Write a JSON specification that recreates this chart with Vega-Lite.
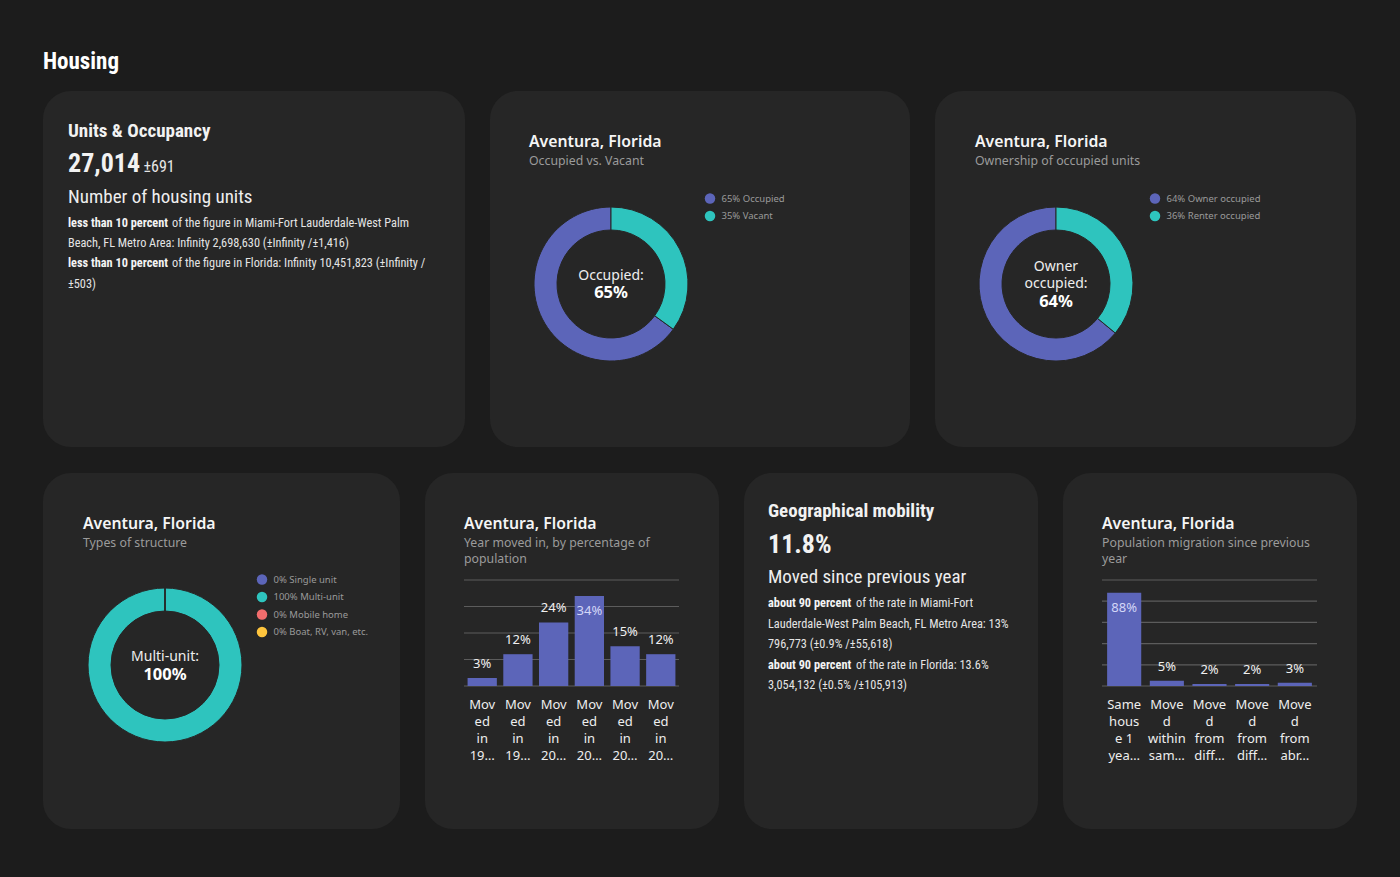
{
  "$schema": "https://vega.github.io/schema/vega-lite/v6.json",
  "background": "#1c1c1c",
  "padding": {"left": 43, "top": 51, "right": 43, "bottom": 48},
  "title": {"text": "Housing", "anchor": "start", "font": "Roboto Condensed, Liberation Sans Narrow, Roboto, sans-serif", "fontSize": 23, "fontWeight": "bold", "color": "#ffffff", "offset": 17},
  "datasets": {
    "units_head": [{"h": "Units & Occupancy", "big": "27,014", "moe": "±691", "label": "Number of housing units"}],
    "units_para": [
      {"ln": 1, "b": "less than 10 percent", "r": "of the figure in Miami-Fort Lauderdale-West Palm"},
      {"ln": 2, "b": "", "r": "Beach, FL Metro Area: Infinity 2,698,630 (±Infinity /±1,416)"},
      {"ln": 3, "b": "less than 10 percent", "r": "of the figure in Florida: Infinity 10,451,823 (±Infinity /"},
      {"ln": 4, "b": "", "r": "±503)"}
    ],
    "occ_meta": [{"ln": 1, "txt": "Aventura, Florida"}, {"ln": 2, "txt": "Occupied vs. Vacant"}],
    "occ_center": [{"c1": "Occupied:", "c2": "65%"}],
    "occ": [{"status": "65% Occupied", "share": 0.65}, {"status": "35% Vacant", "share": 0.35}],
    "own_meta": [{"ln": 1, "txt": "Aventura, Florida"}, {"ln": 2, "txt": "Ownership of occupied units"}],
    "own_center": [{"c1": "Owner|occupied:", "c2": "64%"}],
    "own": [{"tenure": "64% Owner occupied", "share": 0.64}, {"tenure": "36% Renter occupied", "share": 0.36}],
    "struct_meta": [{"ln": 1, "txt": "Aventura, Florida"}, {"ln": 2, "txt": "Types of structure"}],
    "struct_center": [{"c1": "Multi-unit:", "c2": "100%"}],
    "struct": [
      {"kind": "0% Single unit", "share": 0},
      {"kind": "100% Multi-unit", "share": 1},
      {"kind": "0% Mobile home", "share": 0},
      {"kind": "0% Boat, RV, van, etc.", "share": 0}
    ],
    "moved_meta": [{"t": "Aventura, Florida", "s": "Year moved in, by percentage of|population"}],
    "moved": [
      {"period": "Moved in 1989 or earlier", "lab": "Mov|ed|in|19…", "share": 0.03},
      {"period": "Moved in 1990 to 1999", "lab": "Mov|ed|in|19…", "share": 0.12},
      {"period": "Moved in 2000 to 2009", "lab": "Mov|ed|in|20…", "share": 0.24},
      {"period": "Moved in 2010 to 2014", "lab": "Mov|ed|in|20…", "share": 0.34},
      {"period": "Moved in 2015 to 2016", "lab": "Mov|ed|in|20…", "share": 0.15},
      {"period": "Moved in 2017 or later", "lab": "Mov|ed|in|20…", "share": 0.12}
    ],
    "grid40": [{"g": 0}, {"g": 0.1}, {"g": 0.2}, {"g": 0.3}, {"g": 0.4}],
    "geo_head": [{"h": "Geographical mobility", "big": "11.8%", "label": "Moved since previous year"}],
    "geo_para": [
      {"ln": 1, "b": "about 90 percent", "r": "of the rate in Miami-Fort"},
      {"ln": 2, "b": "", "r": "Lauderdale-West Palm Beach, FL Metro Area: 13%"},
      {"ln": 3, "b": "", "r": "796,773 (±0.9% /±55,618)"},
      {"ln": 4, "b": "about 90 percent", "r": "of the rate in Florida: 13.6%"},
      {"ln": 5, "b": "", "r": "3,054,132 (±0.5% /±105,913)"}
    ],
    "migr_meta": [{"t": "Aventura, Florida", "s": "Population migration since previous|year"}],
    "migr": [
      {"cat": "Same house 1 year ago", "lab": "Same|hous|e 1|yea…", "share": 0.88},
      {"cat": "Moved within same county", "lab": "Move|d|within|sam…", "share": 0.05},
      {"cat": "Moved from different county, same state", "lab": "Move|d|from|diff…", "share": 0.02},
      {"cat": "Moved from different state", "lab": "Move|d|from|diff…", "share": 0.02},
      {"cat": "Moved from abroad", "lab": "Move|d|from|abr…", "share": 0.03}
    ],
    "grid100": [{"g": 0}, {"g": 0.2}, {"g": 0.4}, {"g": 0.6}, {"g": 0.8}, {"g": 1}]
  },
  "spacing": 26,
  "resolve": {"scale": {"color": "independent"}, "legend": {"color": "independent"}},
  "vconcat": [
    {
      "spacing": 25,
      "resolve": {"scale": {"color": "independent"}, "legend": {"color": "independent"}},
      "hconcat": [
        {
          "width": 422, "height": 356,
          "layer": [
            {"data": {"name": "units_head"}, "mark": {"type": "text", "style": "head", "fill": "#f2f2f2", "align": "left", "x": 25, "y": 45.7}, "encoding": {"text": {"field": "h"}}},
            {"data": {"name": "units_head"}, "mark": {"type": "text", "style": "big", "fill": "#f2f2f2", "align": "left", "x": 25, "y": 81.3}, "encoding": {"text": {"field": "big"}}},
            {"data": {"name": "units_head"}, "mark": {"type": "text", "style": "moe", "fill": "#e6e6e6", "align": "left", "x": 100.5, "y": 81.3}, "encoding": {"text": {"field": "moe"}}},
            {"data": {"name": "units_head"}, "mark": {"type": "text", "style": "lead", "fill": "#eeeeee", "align": "left", "x": 25, "y": 111.7}, "encoding": {"text": {"field": "label"}}},
            {"data": {"name": "units_para"}, "transform": [{"filter": "datum.b != ''"}], "mark": {"type": "text", "style": "parab", "fill": "#f4f4f4", "align": "left", "x": 25},
             "encoding": {"y": {"field": "ln", "type": "ordinal", "scale": {"type": "point", "domain": [1, 2, 3, 4], "range": [135.7, 196.6], "padding": 0}, "axis": null}, "text": {"field": "b"}}},
            {"data": {"name": "units_para"}, "transform": [{"filter": "datum.b != ''"}], "mark": {"type": "text", "style": "para", "fill": "#e4e4e4", "align": "left", "x": 25, "dx": 104},
             "encoding": {"y": {"field": "ln", "type": "ordinal", "scale": {"type": "point", "domain": [1, 2, 3, 4], "range": [135.7, 196.6], "padding": 0}, "axis": null}, "text": {"field": "r"}}},
            {"data": {"name": "units_para"}, "transform": [{"filter": "datum.b == ''"}], "mark": {"type": "text", "style": "para", "fill": "#e4e4e4", "align": "left", "x": 25},
             "encoding": {"y": {"field": "ln", "type": "ordinal", "scale": {"type": "point", "domain": [1, 2, 3, 4], "range": [135.7, 196.6], "padding": 0}, "axis": null}, "text": {"field": "r"}}}
          ]
        },
        {
          "width": 420, "height": 356,
          "layer": [
            {"data": {"name": "occ"}, "mark": {"type": "arc", "x": 121, "y": 193, "innerRadius": 54, "outerRadius": 77, "stroke": "#262626", "strokeWidth": 1},
             "encoding": {"theta": {"field": "share", "type": "quantitative", "stack": true}, "order": {"field": "share", "sort": "ascending"},
               "color": {"field": "status", "type": "nominal", "scale": {"domain": ["65% Occupied", "35% Vacant"], "range": ["#5c65b9", "#2ec4be"]}, "legend": {"title": null, "orient": "none", "legendX": 214.5, "legendY": 102}}}},
            {"data": {"name": "occ_meta"}, "transform": [{"filter": "datum.ln == 1"}], "mark": {"type": "text", "style": "cardtitle", "fill": "#f5f5f5", "align": "left", "x": 39},
             "encoding": {"y": {"field": "ln", "type": "ordinal", "scale": {"type": "point", "domain": [1, 2], "range": [55.7, 74], "padding": 0}, "axis": null}, "text": {"field": "txt"}}},
            {"data": {"name": "occ_meta"}, "transform": [{"filter": "datum.ln == 2"}], "mark": {"type": "text", "style": "cardsub", "fill": "#9b9b9b", "align": "left", "x": 39},
             "encoding": {"y": {"field": "ln", "type": "ordinal", "scale": {"type": "point", "domain": [1, 2], "range": [55.7, 74], "padding": 0}, "axis": null}, "text": {"field": "txt"}}},
            {"data": {"name": "occ_center"}, "mark": {"type": "text", "style": "ctr", "fill": "#eeeeee", "align": "center", "x": 121, "y": 188.5, "lineBreak": "|"}, "encoding": {"text": {"field": "c1"}}},
            {"data": {"name": "occ_center"}, "mark": {"type": "text", "style": "ctrb", "fill": "#ffffff", "align": "center", "x": 121, "y": 207}, "encoding": {"text": {"field": "c2"}}}
          ]
        },
        {
          "width": 421, "height": 356,
          "layer": [
            {"data": {"name": "own"}, "mark": {"type": "arc", "x": 121, "y": 193, "innerRadius": 54, "outerRadius": 77, "stroke": "#262626", "strokeWidth": 1},
             "encoding": {"theta": {"field": "share", "type": "quantitative", "stack": true}, "order": {"field": "share", "sort": "ascending"},
               "color": {"field": "tenure", "type": "nominal", "scale": {"domain": ["64% Owner occupied", "36% Renter occupied"], "range": ["#5c65b9", "#2ec4be"]}, "legend": {"title": null, "orient": "none", "legendX": 214.5, "legendY": 102}}}},
            {"data": {"name": "own_meta"}, "transform": [{"filter": "datum.ln == 1"}], "mark": {"type": "text", "style": "cardtitle", "fill": "#f5f5f5", "align": "left", "x": 40},
             "encoding": {"y": {"field": "ln", "type": "ordinal", "scale": {"type": "point", "domain": [1, 2], "range": [55.7, 74], "padding": 0}, "axis": null}, "text": {"field": "txt"}}},
            {"data": {"name": "own_meta"}, "transform": [{"filter": "datum.ln == 2"}], "mark": {"type": "text", "style": "cardsub", "fill": "#9b9b9b", "align": "left", "x": 40},
             "encoding": {"y": {"field": "ln", "type": "ordinal", "scale": {"type": "point", "domain": [1, 2], "range": [55.7, 74], "padding": 0}, "axis": null}, "text": {"field": "txt"}}},
            {"data": {"name": "own_center"}, "mark": {"type": "text", "style": "ctr", "fill": "#eeeeee", "align": "center", "x": 121, "y": 180.2, "lineBreak": "|"}, "encoding": {"text": {"field": "c1"}}},
            {"data": {"name": "own_center"}, "mark": {"type": "text", "style": "ctrb", "fill": "#ffffff", "align": "center", "x": 121, "y": 215.7}, "encoding": {"text": {"field": "c2"}}}
          ]
        }
      ]
    },
    {
      "spacing": 25,
      "resolve": {"scale": {"color": "independent"}, "legend": {"color": "independent"}},
      "hconcat": [
        {
          "width": 357, "height": 356,
          "layer": [
            {"data": {"name": "struct"}, "mark": {"type": "arc", "x": 122, "y": 192, "innerRadius": 54, "outerRadius": 77, "stroke": "#262626", "strokeWidth": 1},
             "encoding": {"theta": {"field": "share", "type": "quantitative", "stack": true},
               "color": {"field": "kind", "type": "nominal", "sort": null, "scale": {"domain": ["0% Single unit", "100% Multi-unit", "0% Mobile home", "0% Boat, RV, van, etc."], "range": ["#5c65b9", "#2ec4be", "#f26d6d", "#ffc53d"]}, "legend": {"title": null, "orient": "none", "legendX": 213.5, "legendY": 101}}}},
            {"data": {"name": "struct_meta"}, "transform": [{"filter": "datum.ln == 1"}], "mark": {"type": "text", "style": "cardtitle", "fill": "#f5f5f5", "align": "left", "x": 40},
             "encoding": {"y": {"field": "ln", "type": "ordinal", "scale": {"type": "point", "domain": [1, 2], "range": [55.7, 74], "padding": 0}, "axis": null}, "text": {"field": "txt"}}},
            {"data": {"name": "struct_meta"}, "transform": [{"filter": "datum.ln == 2"}], "mark": {"type": "text", "style": "cardsub", "fill": "#9b9b9b", "align": "left", "x": 40},
             "encoding": {"y": {"field": "ln", "type": "ordinal", "scale": {"type": "point", "domain": [1, 2], "range": [55.7, 74], "padding": 0}, "axis": null}, "text": {"field": "txt"}}},
            {"data": {"name": "struct_center"}, "mark": {"type": "text", "style": "ctr", "fill": "#eeeeee", "align": "center", "x": 122, "y": 187.6, "lineBreak": "|"}, "encoding": {"text": {"field": "c1"}}},
            {"data": {"name": "struct_center"}, "mark": {"type": "text", "style": "ctrb", "fill": "#ffffff", "align": "center", "x": 122, "y": 206.7}, "encoding": {"text": {"field": "c2"}}}
          ]
        },
        {
          "width": 294, "height": 356,
          "layer": [
            {"data": {"name": "moved_meta"}, "mark": {"type": "text", "style": "cardtitle", "fill": "#f5f5f5", "align": "left", "x": 39, "y": 55.7}, "encoding": {"text": {"field": "t"}}},
            {"data": {"name": "moved_meta"}, "mark": {"type": "text", "style": "cardsub", "fill": "#9b9b9b", "align": "left", "x": 39, "y": 74, "lineBreak": "|"}, "encoding": {"text": {"field": "s"}}},
            {"data": {"name": "grid40"}, "mark": {"type": "rule", "x": 39, "x2": 254, "stroke": "#5c5c5c", "strokeWidth": 1.2},
             "encoding": {"y": {"field": "g", "type": "quantitative", "scale": {"domain": [0, 0.4], "range": [213, 107], "nice": false}, "axis": null}}},
            {"data": {"name": "moved"}, "mark": {"type": "bar", "fill": "#5c65b9"},
             "encoding": {"x": {"field": "period", "type": "nominal", "sort": null, "scale": {"range": [39, 254], "paddingInner": 0.18, "paddingOuter": 0.1}, "axis": null},
               "y": {"field": "share", "type": "quantitative", "scale": {"domain": [0, 0.4], "range": [213, 107], "nice": false}, "axis": null}}},
            {"data": {"name": "moved"}, "transform": [{"filter": "datum.share < 0.3"}], "mark": {"type": "text", "style": "vlab", "fill": "#f0f0f0", "align": "center", "dy": -10},
             "encoding": {"x": {"field": "period", "type": "nominal", "sort": null, "scale": {"range": [39, 254], "paddingInner": 0.18, "paddingOuter": 0.1}, "axis": null},
               "y": {"field": "share", "type": "quantitative", "scale": {"domain": [0, 0.4], "range": [213, 107], "nice": false}, "axis": null},
               "text": {"field": "share", "type": "quantitative", "format": ".0%"}}},
            {"data": {"name": "moved"}, "transform": [{"filter": "datum.share >= 0.3"}], "mark": {"type": "text", "style": "vlab", "fill": "#d4d7f7", "align": "center", "dy": 19},
             "encoding": {"x": {"field": "period", "type": "nominal", "sort": null, "scale": {"range": [39, 254], "paddingInner": 0.18, "paddingOuter": 0.1}, "axis": null},
               "y": {"field": "share", "type": "quantitative", "scale": {"domain": [0, 0.4], "range": [213, 107], "nice": false}, "axis": null},
               "text": {"field": "share", "type": "quantitative", "format": ".0%"}}},
            {"data": {"name": "moved"}, "mark": {"type": "text", "style": "xlab", "fill": "#eeeeee", "align": "center", "dy": 23, "lineBreak": "|"},
             "encoding": {"x": {"field": "period", "type": "nominal", "sort": null, "scale": {"range": [39, 254], "paddingInner": 0.18, "paddingOuter": 0.1}, "axis": null},
               "y": {"datum": 0, "type": "quantitative", "scale": {"domain": [0, 0.4], "range": [213, 107], "nice": false}, "axis": null},
               "text": {"field": "lab"}}}
          ]
        },
        {
          "width": 294, "height": 356,
          "layer": [
            {"data": {"name": "geo_head"}, "mark": {"type": "text", "style": "head", "fill": "#f2f2f2", "align": "left", "x": 24, "y": 43.7}, "encoding": {"text": {"field": "h"}}},
            {"data": {"name": "geo_head"}, "mark": {"type": "text", "style": "big", "fill": "#f2f2f2", "align": "left", "x": 24, "y": 79.7}, "encoding": {"text": {"field": "big"}}},
            {"data": {"name": "geo_head"}, "mark": {"type": "text", "style": "lead", "fill": "#eeeeee", "align": "left", "x": 24, "y": 110.3}, "encoding": {"text": {"field": "label"}}},
            {"data": {"name": "geo_para"}, "transform": [{"filter": "datum.b != ''"}], "mark": {"type": "text", "style": "parab", "fill": "#f4f4f4", "align": "left", "x": 24},
             "encoding": {"y": {"field": "ln", "type": "ordinal", "scale": {"type": "point", "domain": [1, 2, 3, 4, 5], "range": [134.3, 216], "padding": 0}, "axis": null}, "text": {"field": "b"}}},
            {"data": {"name": "geo_para"}, "transform": [{"filter": "datum.b != ''"}], "mark": {"type": "text", "style": "para", "fill": "#e4e4e4", "align": "left", "x": 24, "dx": 88},
             "encoding": {"y": {"field": "ln", "type": "ordinal", "scale": {"type": "point", "domain": [1, 2, 3, 4, 5], "range": [134.3, 216], "padding": 0}, "axis": null}, "text": {"field": "r"}}},
            {"data": {"name": "geo_para"}, "transform": [{"filter": "datum.b == ''"}], "mark": {"type": "text", "style": "para", "fill": "#e4e4e4", "align": "left", "x": 24},
             "encoding": {"y": {"field": "ln", "type": "ordinal", "scale": {"type": "point", "domain": [1, 2, 3, 4, 5], "range": [134.3, 216], "padding": 0}, "axis": null}, "text": {"field": "r"}}}
          ]
        },
        {
          "width": 294, "height": 356,
          "layer": [
            {"data": {"name": "migr_meta"}, "mark": {"type": "text", "style": "cardtitle", "fill": "#f5f5f5", "align": "left", "x": 39, "y": 55.7}, "encoding": {"text": {"field": "t"}}},
            {"data": {"name": "migr_meta"}, "mark": {"type": "text", "style": "cardsub", "fill": "#9b9b9b", "align": "left", "x": 39, "y": 74, "lineBreak": "|"}, "encoding": {"text": {"field": "s"}}},
            {"data": {"name": "grid100"}, "mark": {"type": "rule", "x": 39, "x2": 254, "stroke": "#5c5c5c", "strokeWidth": 1.2},
             "encoding": {"y": {"field": "g", "type": "quantitative", "scale": {"domain": [0, 1], "range": [213, 107], "nice": false}, "axis": null}}},
            {"data": {"name": "migr"}, "mark": {"type": "bar", "fill": "#5c65b9"},
             "encoding": {"x": {"field": "cat", "type": "nominal", "sort": null, "scale": {"range": [39, 254], "paddingInner": 0.2, "paddingOuter": 0.12}, "axis": null},
               "y": {"field": "share", "type": "quantitative", "scale": {"domain": [0, 1], "range": [213, 107], "nice": false}, "axis": null}}},
            {"data": {"name": "migr"}, "transform": [{"filter": "datum.share < 0.8"}], "mark": {"type": "text", "style": "vlab", "fill": "#f0f0f0", "align": "center", "dy": -10},
             "encoding": {"x": {"field": "cat", "type": "nominal", "sort": null, "scale": {"range": [39, 254], "paddingInner": 0.2, "paddingOuter": 0.12}, "axis": null},
               "y": {"field": "share", "type": "quantitative", "scale": {"domain": [0, 1], "range": [213, 107], "nice": false}, "axis": null},
               "text": {"field": "share", "type": "quantitative", "format": ".0%"}}},
            {"data": {"name": "migr"}, "transform": [{"filter": "datum.share >= 0.8"}], "mark": {"type": "text", "style": "vlab", "fill": "#d4d7f7", "align": "center", "dy": 19},
             "encoding": {"x": {"field": "cat", "type": "nominal", "sort": null, "scale": {"range": [39, 254], "paddingInner": 0.2, "paddingOuter": 0.12}, "axis": null},
               "y": {"field": "share", "type": "quantitative", "scale": {"domain": [0, 1], "range": [213, 107], "nice": false}, "axis": null},
               "text": {"field": "share", "type": "quantitative", "format": ".0%"}}},
            {"data": {"name": "migr"}, "mark": {"type": "text", "style": "xlab", "fill": "#eeeeee", "align": "center", "dy": 23, "lineBreak": "|"},
             "encoding": {"x": {"field": "cat", "type": "nominal", "sort": null, "scale": {"range": [39, 254], "paddingInner": 0.2, "paddingOuter": 0.12}, "axis": null},
               "y": {"datum": 0, "type": "quantitative", "scale": {"domain": [0, 1], "range": [213, 107], "nice": false}, "axis": null},
               "text": {"field": "lab"}}}
          ]
        }
      ]
    }
  ],
  "config": {
    "view": {"fill": "#262626", "stroke": null, "cornerRadius": 28},
    "legend": {"symbolType": "circle", "symbolSize": 110, "symbolStrokeWidth": 0, "symbolOpacity": 1, "labelFont": "Noto Sans", "labelFontSize": 9.5, "labelColor": "#9a9a9a", "rowPadding": 6.5, "labelOffset": 6, "padding": 0},
    "text": {"font": "Noto Sans", "baseline": "alphabetic", "align": "left"},
    "style": {
      "head": {"font": "Roboto Condensed, Liberation Sans Narrow, Roboto, sans-serif", "fontSize": 19, "fontWeight": "bold"},
      "big": {"font": "Roboto Condensed, Liberation Sans Narrow, Roboto, sans-serif", "fontSize": 26, "fontWeight": "bold"},
      "moe": {"font": "Roboto Condensed, Liberation Sans Narrow, Roboto, sans-serif", "fontSize": 16},
      "lead": {"font": "Roboto Condensed, Liberation Sans Narrow, Roboto, sans-serif", "fontSize": 19},
      "para": {"font": "Roboto Condensed, Liberation Sans Narrow, Roboto, sans-serif", "fontSize": 12.3},
      "parab": {"font": "Roboto Condensed, Liberation Sans Narrow, Roboto, sans-serif", "fontSize": 12.3, "fontWeight": "bold"},
      "cardtitle": {"font": "Noto Sans", "fontSize": 15.8, "fontWeight": 600},
      "cardsub": {"font": "Noto Sans", "fontSize": 12.3, "lineHeight": 16},
      "ctr": {"font": "Noto Sans", "fontSize": 14, "lineHeight": 17.3},
      "ctrb": {"font": "Noto Sans", "fontSize": 16.5, "fontWeight": "bold"},
      "vlab": {"font": "Noto Sans", "fontSize": 13},
      "xlab": {"font": "Noto Sans", "fontSize": 13, "lineHeight": 17}
    }
  }
}
